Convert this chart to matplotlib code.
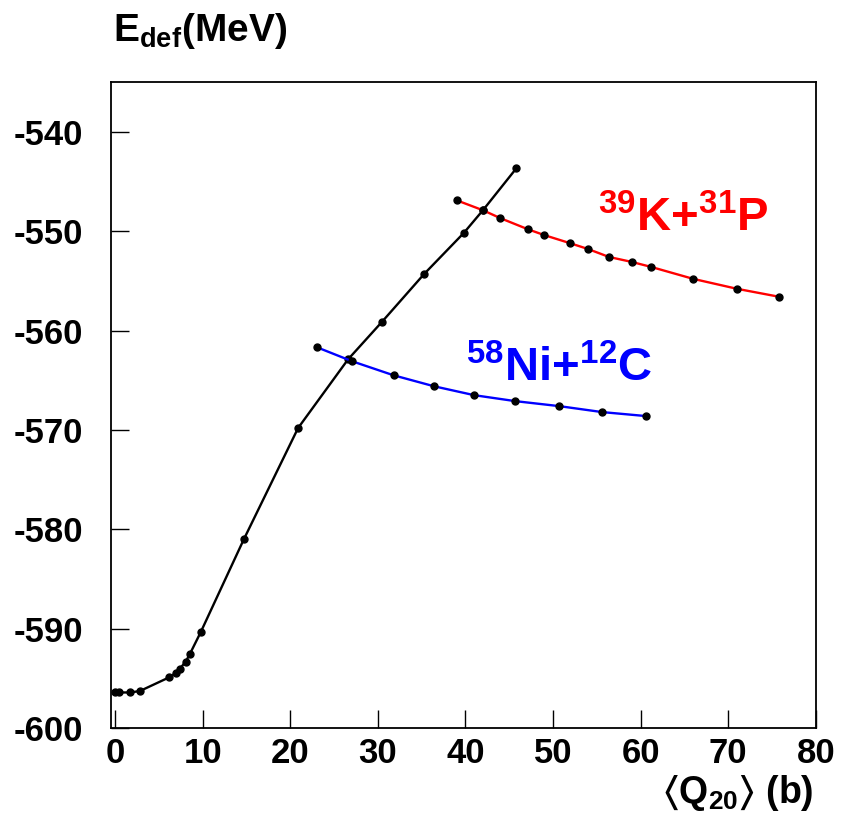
import matplotlib
matplotlib.use("Agg")
import matplotlib.pyplot as plt

plt.rcParams['font.family'] = ['Liberation Sans', 'DejaVu Sans']
plt.rcParams['font.weight'] = 'bold'
plt.rcParams['mathtext.fontset'] = 'custom'
plt.rcParams['mathtext.rm'] = 'Liberation Sans:bold'
plt.rcParams['mathtext.it'] = 'Liberation Sans:bold'
plt.rcParams['mathtext.bf'] = 'Liberation Sans:bold'
plt.rcParams['mathtext.fallback'] = 'stix'
plt.rcParams['axes.unicode_minus'] = False

# black curve: deformation energy of the compound system
q_cn = [0.0, 0.5, 1.75, 2.85, 6.2, 7.0, 7.4, 8.07, 8.56, 9.8, 14.7, 20.9,
        26.6, 30.5, 35.3, 39.8, 42.0, 45.8]
e_cn = [-596.4, -596.4, -596.4, -596.25, -594.87, -594.4, -594.0, -593.3,
        -592.5, -590.3, -581.0, -569.8, -562.9, -559.1, -554.3, -550.2,
        -547.9, -543.7]

# red curve: 39K + 31P
q_kp = [39.0, 42.0, 44.0, 47.1, 49.0, 51.9, 54.0, 56.4, 59.0, 61.2, 66.0,
        71.0, 75.8]
e_kp = [-546.9, -547.9, -548.7, -549.8, -550.4, -551.2, -551.8, -552.6,
        -553.1, -553.6, -554.8, -555.8, -556.6]

# blue curve: 58Ni + 12C
q_nic = [23.1, 27.1, 31.8, 36.4, 41.0, 45.7, 50.7, 55.6, 60.6]
e_nic = [-561.7, -563.1, -564.5, -565.6, -566.5, -567.1, -567.6, -568.2,
         -568.6]

fig = plt.figure(figsize=(8.41, 8.19), dpi=100)
ax = fig.add_axes([0.1316, 0.1108, 0.8384, 0.7891])

ax.plot(q_cn, e_cn, color='black', lw=1.7, marker='o', ms=5, mfc='black', mec='black')
ax.plot(q_kp, e_kp, color='red', lw=1.7, marker='o', ms=5, mfc='black', mec='black')
ax.plot(q_nic, e_nic, color='blue', lw=1.7, marker='o', ms=5, mfc='black', mec='black')

ax.text(55.17, -550.05, r'$^{39}$K+$^{31}$P', color='red', fontsize=34,
        fontweight='bold', ha='left', va='baseline')
ax.text(40.07, -565.07, r'$^{58}$Ni+$^{12}$C', color='blue', fontsize=34,
        fontweight='bold', ha='left', va='baseline')

ax.set_xlim(-0.5, 80)
ax.set_ylim(-600, -535)
ax.set_xticks(range(0, 81, 10))
ax.set_yticks(range(-600, -539, 10))
ax.tick_params(direction='in', length=13, width=1, labelsize=25,
               top=False, right=False)
ax.tick_params(axis='x', pad=6)
ax.tick_params(axis='y', pad=20)
for lab in ax.get_xticklabels() + ax.get_yticklabels():
    lab.set_fontweight('bold')
for sp in ax.spines.values():
    sp.set_linewidth(1.3)

fig.text(0.134, 0.950, r'E$_{\mathrm{def}}$(MeV)', fontsize=28,
         fontweight='bold', ha='left', va='baseline')
fig.text(0.968, 0.0195, r'$\langle$Q$_{20}$$\rangle$ (b)', fontsize=27,
         fontweight='bold', ha='right', va='baseline')

fig.savefig('out.png', dpi=100)
